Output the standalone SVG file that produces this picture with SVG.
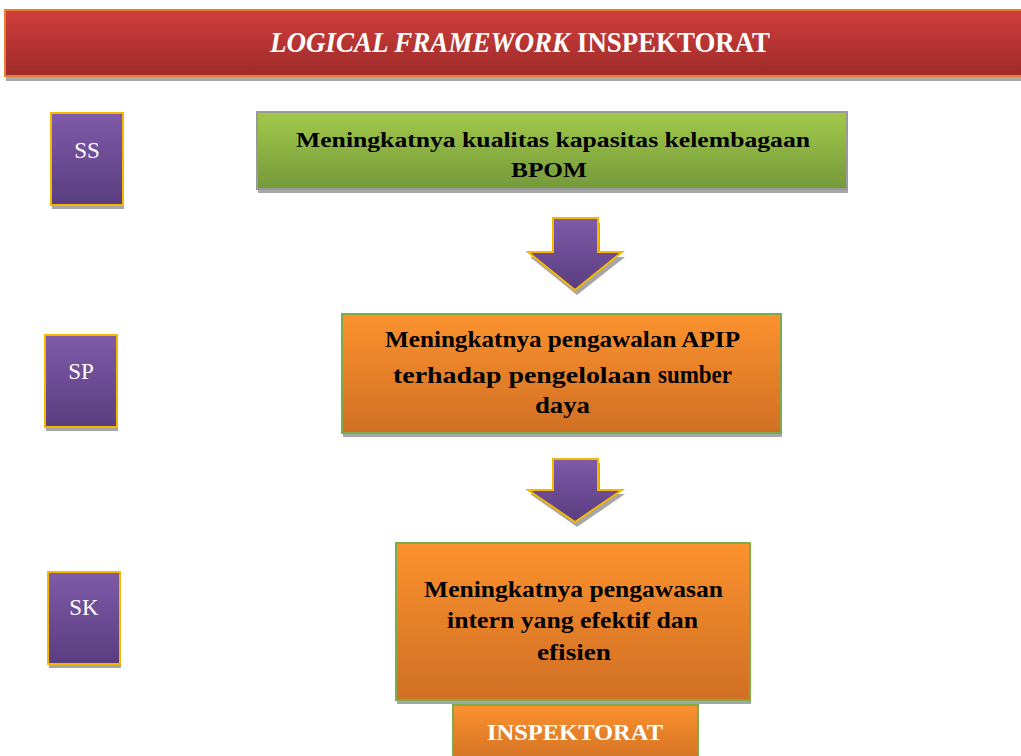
<svg xmlns="http://www.w3.org/2000/svg" width="1021" height="756" viewBox="0 0 1021 756">
<defs>
<linearGradient id="gRed" x1="0" y1="0" x2="0" y2="1"><stop offset="0" stop-color="#d13e3c"/><stop offset="1" stop-color="#9d2b29"/></linearGradient>
<linearGradient id="gPur" x1="0" y1="0" x2="0" y2="1"><stop offset="0" stop-color="#7f5aa8"/><stop offset="1" stop-color="#5a3d80"/></linearGradient>
<linearGradient id="gGrn" x1="0" y1="0" x2="0" y2="1"><stop offset="0" stop-color="#a2c94a"/><stop offset="1" stop-color="#74993a"/></linearGradient>
<linearGradient id="gOrg" x1="0" y1="0" x2="0" y2="1"><stop offset="0" stop-color="#fc922e"/><stop offset="1" stop-color="#d06f24"/></linearGradient>
</defs>
<style>
.sh{fill:#a6a6a6}
.pur{fill:url(#gPur);stroke:#f5b800;stroke-width:2}
.org{fill:url(#gOrg);stroke:#79ac4a;stroke-width:2}
.lbl{font-family:"Liberation Serif",serif;font-weight:bold;fill:#000}
.wt{font-family:"Liberation Serif",serif;font-weight:bold;fill:#fff}
.side{font-family:"Liberation Serif",serif;fill:#fff;font-size:23px;text-anchor:middle}
</style>
<rect width="1021" height="756" fill="#fff"/>
<g id="title">
<rect x="6" y="14" width="1020" height="67" class="sh"/>
<rect x="5" y="10" width="1020" height="66" fill="url(#gRed)" stroke="#ed7d31" stroke-width="2"/>
<text x="270" y="52" class="wt" font-size="29" font-style="italic" textLength="300" lengthAdjust="spacingAndGlyphs">LOGICAL FRAMEWORK</text>
<text x="577" y="52" class="wt" font-size="29" textLength="193" lengthAdjust="spacingAndGlyphs">INSPEKTORAT</text>
</g>
<g id="ss">
<rect x="52" y="117" width="72" height="92" class="sh"/>
<rect x="51" y="113" width="72" height="92" class="pur"/>
<text x="87" y="158" class="side">SS</text>
</g>
<g id="sp">
<rect x="46" y="339" width="72" height="92" class="sh"/>
<rect x="45" y="335" width="72" height="92" class="pur"/>
<text x="81" y="379" class="side">SP</text>
</g>
<g id="sk">
<rect x="49" y="576" width="72" height="92" class="sh"/>
<rect x="48" y="572" width="72" height="92" class="pur"/>
<text x="84" y="615" class="side">SK</text>
</g>
<g id="ss-goal">
<rect x="258" y="116" width="590" height="77" class="sh"/>
<rect x="257" y="112" width="590" height="77" fill="url(#gGrn)" stroke="#9a9a9a" stroke-width="2"/>
<text x="296" y="147" class="lbl" font-size="22" textLength="514" lengthAdjust="spacingAndGlyphs">Meningkatnya kualitas kapasitas kelembagaan</text>
<text x="511" y="177" class="lbl" font-size="22" textLength="76" lengthAdjust="spacingAndGlyphs">BPOM</text>
</g>
<g id="connectors">
<path d="M555 223 H600 V257 H625 L577 295 L530 257 H555 Z" class="sh"/>
<path d="M553 218 H598 V252 H622 L575 290 L528 252 H553 Z" class="pur"/>
<path d="M555 463 H600 V494 H625 L577 527 L530 494 H555 Z" class="sh"/>
<path d="M553 459 H598 V490 H622 L575 522 L528 490 H553 Z" class="pur"/>
</g>
<g id="sp-goal">
<rect x="343" y="318" width="439" height="119" class="sh"/>
<rect x="342" y="314" width="439" height="119" class="org"/>
<text x="385" y="347" class="lbl" font-size="23" textLength="355" lengthAdjust="spacingAndGlyphs">Meningkatnya pengawalan APIP</text>
<text x="393" y="383" class="lbl" font-size="23" textLength="258" lengthAdjust="spacingAndGlyphs">terhadap pengelolaan</text>
<text x="658" y="383" class="lbl" font-size="25" textLength="74" lengthAdjust="spacingAndGlyphs">sumber</text>
<text x="535" y="413" class="lbl" font-size="23" textLength="55" lengthAdjust="spacingAndGlyphs">daya</text>
</g>
<g id="sk-goal">
<rect x="397" y="547" width="354" height="157" class="sh"/>
<rect x="396" y="543" width="354" height="157" class="org"/>
<text x="424" y="597" class="lbl" font-size="23" textLength="299" lengthAdjust="spacingAndGlyphs">Meningkatnya pengawasan</text>
<text x="447" y="628" class="lbl" font-size="23" textLength="251" lengthAdjust="spacingAndGlyphs">intern yang efektif dan</text>
<text x="537" y="660" class="lbl" font-size="23" textLength="74" lengthAdjust="spacingAndGlyphs">efisien</text>
</g>
<g id="inspektorat">
<rect x="453" y="705" width="245" height="60" class="org"/>
<text x="487" y="740" class="wt" font-size="24" textLength="176" lengthAdjust="spacingAndGlyphs">INSPEKTORAT</text>
</g>
</svg>
